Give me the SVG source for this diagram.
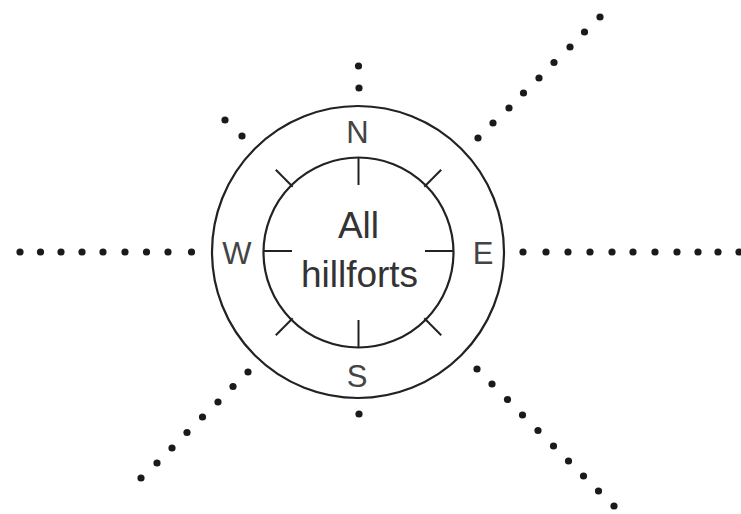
<svg xmlns="http://www.w3.org/2000/svg" width="741" height="514" viewBox="0 0 741 514">
<style>
.ring{fill:none;stroke:#222;stroke-width:2.2}
.tick{stroke:#222;stroke-width:2}
.dot{fill:#1a1a1a}
.dir{font-family:"Liberation Sans",Arial,sans-serif;font-size:31px;fill:#444;text-anchor:middle}
.lbl{font-family:"Liberation Sans",Arial,sans-serif;font-size:37px;fill:#333;text-anchor:middle}
</style>
<rect width="741" height="514" fill="#fff"/>
<g id="rays">
<g id="ray-w">
<circle class="dot" cx="20" cy="252" r="3.6"/><circle class="dot" cx="40.5" cy="252" r="3.6"/><circle class="dot" cx="61" cy="252" r="3.6"/><circle class="dot" cx="82" cy="252" r="3.6"/><circle class="dot" cx="103" cy="252" r="3.6"/><circle class="dot" cx="125" cy="252" r="3.6"/><circle class="dot" cx="146.5" cy="252" r="3.6"/><circle class="dot" cx="168" cy="252" r="3.6"/><circle class="dot" cx="191.5" cy="252" r="3.6"/>
</g>
<g id="ray-e">
<circle class="dot" cx="523" cy="252" r="3.6"/><circle class="dot" cx="546" cy="252" r="3.6"/><circle class="dot" cx="568" cy="252" r="3.6"/><circle class="dot" cx="590" cy="252" r="3.6"/><circle class="dot" cx="612" cy="252" r="3.6"/><circle class="dot" cx="633" cy="252" r="3.6"/><circle class="dot" cx="655" cy="252" r="3.6"/><circle class="dot" cx="677" cy="252" r="3.6"/><circle class="dot" cx="698" cy="252" r="3.6"/><circle class="dot" cx="718" cy="252" r="3.6"/><circle class="dot" cx="739" cy="252" r="3.6"/>
</g>
<g id="ray-ne">
<circle class="dot" cx="478" cy="138" r="3.6"/><circle class="dot" cx="493" cy="123" r="3.6"/><circle class="dot" cx="509" cy="108" r="3.6"/><circle class="dot" cx="523.5" cy="93" r="3.6"/><circle class="dot" cx="539" cy="78" r="3.6"/><circle class="dot" cx="554" cy="62.5" r="3.6"/><circle class="dot" cx="570" cy="47" r="3.6"/><circle class="dot" cx="584.5" cy="32" r="3.6"/><circle class="dot" cx="600" cy="17" r="3.6"/>
</g>
<g id="ray-sw">
<circle class="dot" cx="248" cy="372" r="3.6"/><circle class="dot" cx="233" cy="386.5" r="3.6"/><circle class="dot" cx="218" cy="402" r="3.6"/><circle class="dot" cx="202.5" cy="417" r="3.6"/><circle class="dot" cx="187" cy="432.5" r="3.6"/><circle class="dot" cx="172" cy="448" r="3.6"/><circle class="dot" cx="157" cy="463" r="3.6"/><circle class="dot" cx="141" cy="478" r="3.6"/>
</g>
<g id="ray-se">
<circle class="dot" cx="477" cy="369" r="3.6"/><circle class="dot" cx="492" cy="384" r="3.6"/><circle class="dot" cx="507.5" cy="399.5" r="3.6"/><circle class="dot" cx="522.5" cy="415" r="3.6"/><circle class="dot" cx="538" cy="430.5" r="3.6"/><circle class="dot" cx="553.5" cy="446" r="3.6"/><circle class="dot" cx="568.5" cy="461" r="3.6"/><circle class="dot" cx="583.5" cy="476" r="3.6"/><circle class="dot" cx="598.5" cy="491" r="3.6"/><circle class="dot" cx="614" cy="506" r="3.6"/>
</g>
<g id="ray-nw">
<circle class="dot" cx="225" cy="120" r="3.6"/><circle class="dot" cx="242" cy="136" r="3.6"/>
</g>
<g id="ray-n">
<circle class="dot" cx="358.5" cy="66" r="3.6"/><circle class="dot" cx="359" cy="88" r="3.6"/>
</g>
<g id="ray-s">
<circle class="dot" cx="359" cy="414" r="3.6"/>
</g>
</g>
<g id="outer-ring">
<circle class="ring" cx="358" cy="252" r="146"/>
<text class="dir" x="357.5" y="143">N</text>
<text class="dir" x="357" y="387">S</text>
<text class="dir" x="237" y="264">W</text>
<text class="dir" x="483" y="264">E</text>
</g>
<g id="inner-ring">
<circle class="ring" cx="358.5" cy="252.5" r="95"/>
<line class="tick" x1="358.5" y1="157.5" x2="358.5" y2="185"/>
<line class="tick" x1="358.5" y1="347.5" x2="358.5" y2="320"/>
<line class="tick" x1="263.5" y1="251" x2="292" y2="251"/>
<line class="tick" x1="453.5" y1="251" x2="425" y2="251"/>
<line class="tick" x1="292.7" y1="186.7" x2="275.8" y2="169.8"/>
<line class="tick" x1="424.3" y1="186.7" x2="441.2" y2="169.8"/>
<line class="tick" x1="292.7" y1="318.3" x2="275.8" y2="335.2"/>
<line class="tick" x1="424.3" y1="318.3" x2="441.2" y2="335.2"/>
<text class="lbl" x="358.5" y="238">All</text>
<text class="lbl" x="359.5" y="287">hillforts</text>
</g>
</svg>
